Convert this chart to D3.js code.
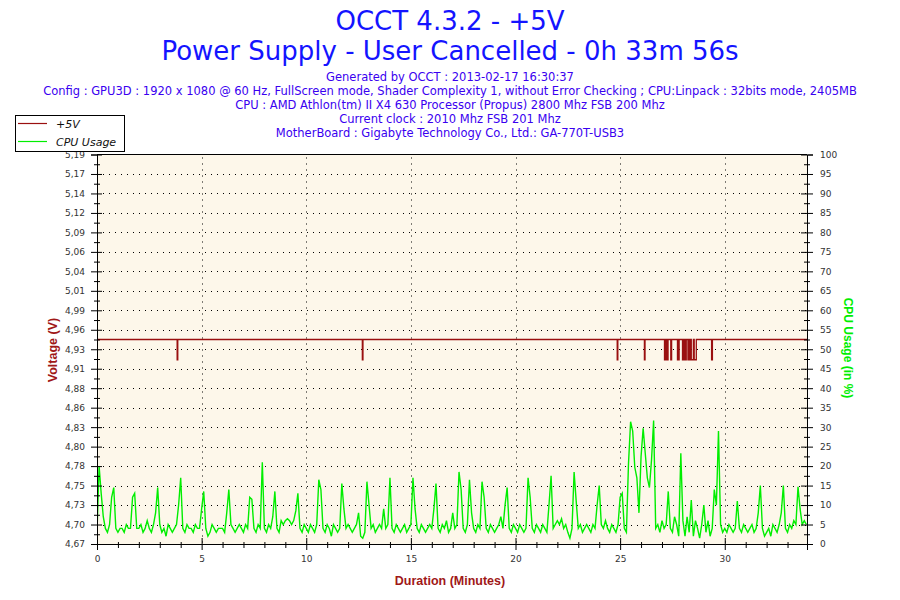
<!DOCTYPE html>
<html><head><meta charset="utf-8">
<script src="https://cdn.jsdelivr.net/npm/d3@7"></script>
<style>body{margin:0;background:#fff}svg{display:block}</style>
</head><body><svg id="c" width="900" height="600"></svg>
<script>
// ---------- data ----------
const titleLines = ["OCCT 4.3.2 - +5V", "Power Supply - User Cancelled - 0h 33m 56s"];
const infoLines = [
  "Generated by OCCT : 2013-02-17 16:30:37",
  "Config : GPU3D : 1920 x 1080 @ 60 Hz, FullScreen mode, Shader Complexity 1, without Error Checking ; CPU:Linpack : 32bits mode, 2405MB",
  "CPU : AMD Athlon(tm) II X4 630 Processor (Propus) 2800 Mhz FSB 200 Mhz",
  "Current clock : 2010 Mhz FSB 201 Mhz",
  "MotherBoard : Gigabyte Technology Co., Ltd.: GA-770T-USB3"
];
const legendLabels = ["+5V", "CPU Usage"];
const durationMin = 33.93;
const xMajorTicks = [0, 5, 10, 15, 20, 25, 30];
const xMinorTicks = [1,2,3,4,6,7,8,9,11,12,13,14,16,17,18,19,21,22,23,24,26,27,28,29,31,32,33];
const voltTicks = [4.674,4.700,4.726,4.752,4.778,4.804,4.830,4.856,4.882,4.908,4.934,4.960,4.986,5.012,5.038,5.064,5.090,5.116,5.142,5.168,5.194];
const voltTickLabels = ["4,67","4,70","4,73","4,75","4,78","4,80","4,83","4,86","4,88","4,91","4,93","4,96","4,99","5,01","5,04","5,06","5,09","5,12","5,14","5,17","5,19"];
const cpuTicks = [0,5,10,15,20,25,30,35,40,45,50,55,60,65,70,75,80,85,90,95,100];
const cpuMinorTicks = [2.5,7.5,12.5,17.5,22.5,27.5,32.5,37.5,42.5,47.5,52.5,57.5,62.5,67.5,72.5,77.5,82.5,87.5,92.5,97.5];

// CPU usage (%), one reading every 0.1 minute
const sampleStep = 0.1;
const cpuUsage = [
  3,20,13,7,4,3,5,12,14.5,4,3,4,4,3,5,4,4,12,13,4,
  4,5,3,4,6,4,3,5,8,14.5,5,3,4,2,5,4,3,4,5,10,
  17,4,3,5,4,4,3,5,4,4,9,13.5,4,2,3,5,4,3,4,4,
  4,3,8,14,5,4,3,4,5,4,3,5,4,12,11.5,4,3,5,4,21,
  4,3,5,4,7,13.5,4,3,6,5,6,6.5,6,5,6,8.5,13,4,3,5,
  4,3,5,4,3,5,16.5,14,4,3,5,4,2,5,4,3,4,15.5,9,4,
  5,4,3,4,5,8,2,1.5,3,16,10,4,5,3,4,5,4,9,4,5,
  17,4,3,5,4,3,4,5,3,4,5,17,9,4,3,5,4,3,4,5,
  4,9,15.5,4,3,5,4,6,3,4,8,4,5,18.5,14,4,3,5,16.5,8,
  4,3,5,4,16,12,4,3,5,4,3,4,5,7,4,10,14.5,4,3,5,
  4,3,5,4,3,4,17,12,4,3,5,4,3,5,4,3,10,17.5,4,5,
  6,5,6.5,4,5,3,1.5,4,18.5,11,4,5,3,4,5,4,3,5,4,10,
  15,5,4,6,4,3,5,4,3,5,12,13,4,3,20.7,31.4,29,19.7,17,8,
  22.5,29.7,23.3,17,14.5,21.6,31.7,4,5,3,6,4,5,13.5,4,3,7,5,2,23.3,
  6,2,7,3,11.3,2,6,4,1.5,5,10,3,6,2,4,14,10,29,5,3,
  4,3,5,4,3,4,11,4,3,5,4,3,4,5,3,4,8,15,4,2,
  3,4,2,5,4,3,5,8,15,4,3,5,4,6,5,14.7,9,5,6,5
];

// +5V rail (V): steady reading with short drops [start, end] in minutes
const voltBase = 4.947;
const voltLow = 4.920;
const voltDips = [
  [3.83,3.86],[12.68,12.71],[24.86,24.89],[26.16,26.19],
  [27.12,27.15],[27.18,27.22],[27.25,27.29],[27.42,27.46],
  [27.74,27.76],[27.79,27.82],[27.98,28.02],[28.06,28.09],[28.12,28.16],
  [28.24,28.30],[28.33,28.37],[28.40,28.50],[28.54,28.64],[29.37,29.41]
];

// ---------- chart ----------
const svg = d3.select("#c");
const L = 97, R = 807, T = 154.5, B = 544;
const x = d3.scaleLinear().domain([0, durationMin]).range([L, R]);
const yV = d3.scaleLinear().domain([voltTicks[0], voltTicks[voltTicks.length-1]]).range([B, T]);
const yC = d3.scaleLinear().domain([0, 100]).range([B, T]);

const red = "#9a1010", green = "#00ee00";
const tickFont = "DejaVu Sans";

svg.append("rect").attr("x", L).attr("y", T).attr("width", R-L).attr("height", B-T).attr("fill", "#fdf7ea");

// grid
const grid = svg.append("g").attr("stroke", "#000").attr("stroke-width", 1).attr("stroke-dasharray", "1 5");
grid.selectAll("line.h").data(voltTicks.slice(1, -1)).join("line")
  .attr("x1", L + 6).attr("x2", R).attr("y1", d => Math.round(yV(d)) + 0.5).attr("y2", d => Math.round(yV(d)) + 0.5);
grid.selectAll("line.v").data(xMajorTicks.slice(1)).join("line")
  .attr("y1", T + 3).attr("y2", B).attr("x1", d => Math.round(x(d)) + 0.5).attr("x2", d => Math.round(x(d)) + 0.5);

svg.append("clipPath").attr("id", "pc").append("rect").attr("x", L).attr("y", T).attr("width", R-L).attr("height", B-T);

// CPU line
const cpuPts = cpuUsage.map((v, i) => [i * sampleStep, v]);
svg.append("path").attr("clip-path", "url(#pc)")
  .attr("d", d3.line().x(d => x(d[0])).y(d => yC(d[1]))(cpuPts))
  .attr("fill", "none").attr("stroke", green).attr("stroke-width", 1.4);

// Voltage line
const voltPts = [[0, voltBase]];
voltDips.forEach(([s, e]) => { voltPts.push([s, voltLow]); voltPts.push([e, voltBase]); });
voltPts.push([durationMin, voltBase]);
svg.append("path").attr("clip-path", "url(#pc)")
  .attr("d", d3.line().curve(d3.curveStepAfter).x(d => x(d[0])).y(d => yV(d[1]))(voltPts))
  .attr("fill", "none").attr("stroke", red).attr("stroke-width", 1.3);

function styleAxis(g) {
  g.attr("font-family", tickFont).attr("font-size", 9);
  g.selectAll("text").attr("fill", "#333");
  g.selectAll("path,line").attr("stroke", "#000");
}

// left axis
const gL = svg.append("g").attr("transform", `translate(${L},0)`)
  .call(d3.axisLeft(yV).tickValues(voltTicks).tickFormat((d, i) => voltTickLabels[i]).tickSizeOuter(0).tickSize(6).tickPadding(6));
gL.selectAll(".tick line").attr("x1", 5);
styleAxis(gL);
const gLm = svg.append("g").attr("transform", `translate(${L},0)`)
  .call(d3.axisLeft(yC).tickValues(cpuMinorTicks).tickFormat("").tickSizeOuter(0).tickSize(3));
gLm.select(".domain").remove();
gLm.selectAll(".tick line").attr("x1", 3).attr("stroke", "#000");

// right axis
const gR = svg.append("g").attr("transform", `translate(${R},0)`)
  .call(d3.axisRight(yC).tickValues(cpuTicks).tickSizeOuter(0).tickSize(6).tickPadding(7));
gR.selectAll(".tick line").attr("x1", -6);
styleAxis(gR);
const gRm = svg.append("g").attr("transform", `translate(${R},0)`)
  .call(d3.axisRight(yC).tickValues(cpuMinorTicks).tickFormat("").tickSizeOuter(0).tickSize(3));
gRm.select(".domain").remove();
gRm.selectAll(".tick line").attr("x1", -3).attr("stroke", "#000");

// bottom axis
const gB = svg.append("g").attr("transform", `translate(0,${B})`)
  .call(d3.axisBottom(x).tickValues(xMajorTicks).tickFormat(d3.format("d")).tickSizeOuter(0).tickSize(6).tickPadding(6));
gB.selectAll(".tick line").attr("y1", -6);
styleAxis(gB);
const gBm = svg.append("g").attr("transform", `translate(0,${B})`)
  .call(d3.axisBottom(x).tickValues(xMinorTicks).tickFormat("").tickSizeOuter(0).tickSize(4));
gBm.select(".domain").remove();
gBm.selectAll(".tick line").attr("y1", -2).attr("stroke", "#000");

// top border
svg.append("line").attr("x1", L).attr("x2", R).attr("y1", T).attr("y2", T).attr("stroke", "#000");

// legend
const lg = svg.append("g");
lg.append("rect").attr("x", 15.5).attr("y", 115.5).attr("width", 109).attr("height", 36).attr("fill", "#fff").attr("stroke", "#000");
[[red, 123.5, 127.5], [green, 141.5, 145.5]].forEach(([c, ly, ty], i) => {
  lg.append("line").attr("x1", 18).attr("x2", 47).attr("y1", ly).attr("y2", ly).attr("stroke", c).attr("stroke-width", 1.2);
  lg.append("text").attr("x", 56).attr("y", ty).text(legendLabels[i])
    .attr("font-family", "DejaVu Sans").attr("font-style", "italic").attr("font-size", 11).attr("fill", "#111");
});

// titles
svg.selectAll("text.title").data(titleLines).join("text").attr("class", "title")
  .attr("x", 450).attr("y", (d, i) => 29.5 + i * 30.5).attr("text-anchor", "middle")
  .attr("font-family", "DejaVu Sans").attr("font-size", 26).attr("fill", "#1414ff").text(d => d);
svg.selectAll("text.info").data(infoLines).join("text").attr("class", "info")
  .attr("x", 450).attr("y", (d, i) => 81 + i * 14).attr("text-anchor", "middle")
  .attr("font-family", "DejaVu Sans").attr("font-size", 11.5).attr("fill", "#3a00f0").text(d => d);

// axis titles
svg.append("text").attr("transform", "translate(57,350) rotate(-90)").attr("text-anchor", "middle")
  .attr("font-family", "Liberation Sans").attr("font-weight", "bold").attr("font-size", 12.5).attr("fill", "#a01818").text("Voltage (V)");
svg.append("text").attr("transform", "translate(844,348) rotate(90)").attr("text-anchor", "middle")
  .attr("font-family", "Liberation Sans").attr("font-weight", "bold").attr("font-size", 12).attr("fill", green).text("CPU Usage (in %)");
svg.append("text").attr("x", 450).attr("y", 585).attr("text-anchor", "middle")
  .attr("font-family", "Liberation Sans").attr("font-weight", "bold").attr("font-size", 12.5).attr("fill", "#a01818").text("Duration (Minutes)");
</script></body></html>
